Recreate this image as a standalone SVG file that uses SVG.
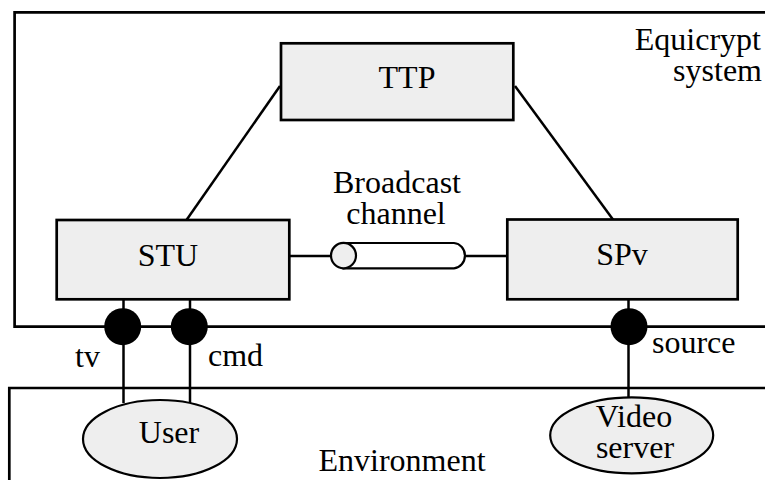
<svg xmlns="http://www.w3.org/2000/svg" width="765" height="480" viewBox="0 0 765 480" font-family="'Liberation Serif', 'Times New Roman', 'DejaVu Serif', serif" font-size="32">
<style>
.box{fill:#eeeeee;stroke:#000;stroke-width:2.7}
.frame{fill:none;stroke:#000;stroke-width:2.7}
.ln{fill:none;stroke:#000;stroke-width:2.5}
.port{fill:#000;stroke:none}
.ell{fill:#eeeeee;stroke:#000;stroke-width:2.2}
.m{text-anchor:middle}
.e{text-anchor:end}
</style>
<rect width="765" height="480" fill="#fff"/>
<g id="equicrypt-system">
<path class="frame" d="M768,12.3 H14.6 V326.7 H768"/>
<text class="e" x="761" y="50">Equicrypt</text>
<text class="e" x="762" y="81">system</text>
</g>
<g id="environment">
<path class="frame" d="M768,388 H9.3 V485"/>
<text class="m" x="402" y="471">Environment</text>
</g>
<g id="connectors">
<line class="ln" x1="280" y1="86" x2="183" y2="225"/>
<line class="ln" x1="515" y1="86" x2="617" y2="225"/>
<line class="ln" x1="289" y1="256" x2="331" y2="256"/>
<line class="ln" x1="466" y1="256" x2="508" y2="256"/>
<line class="ln" x1="123.5" y1="300" x2="123.5" y2="403"/>
<line class="ln" x1="190" y1="300" x2="190" y2="403"/>
<line class="ln" x1="628.5" y1="300" x2="628.5" y2="398"/>
</g>
<g id="TTP">
<rect class="box" x="281" y="43.3" width="232.3" height="76.7"/>
<text class="m" x="407" y="88">TTP</text>
</g>
<g id="STU">
<rect class="box" x="56.7" y="220" width="232.6" height="79.3"/>
<text class="m" x="168" y="266">STU</text>
</g>
<g id="SPv">
<rect class="box" x="507.3" y="219.5" width="230.4" height="79.8"/>
<text class="m" x="622" y="265">SPv</text>
</g>
<g id="broadcast-channel">
<path d="M343.5,243 H454 A12,12.7 0 0 1 454,268.3 H343.5 Z" fill="#fff" stroke="#000" stroke-width="2.2"/>
<ellipse class="ell" cx="343.5" cy="255.6" rx="12.5" ry="12.7"/>
<text class="m" x="397" y="193">Broadcast</text>
<text class="m" x="396" y="224">channel</text>
</g>
<g id="port-tv">
<circle class="port" cx="122.7" cy="326.7" r="18.5"/>
<text x="75" y="367">tv</text>
</g>
<g id="port-cmd">
<circle class="port" cx="189.3" cy="326.7" r="18.5"/>
<text x="208" y="366">cmd</text>
</g>
<g id="port-source">
<circle class="port" cx="629" cy="326.7" r="18.5"/>
<text x="652" y="353">source</text>
</g>
<g id="User">
<ellipse class="ell" cx="160" cy="439" rx="77" ry="39"/>
<text class="m" x="169" y="443">User</text>
</g>
<g id="Video-server">
<ellipse class="ell" cx="631.7" cy="435.3" rx="81.5" ry="38"/>
<text class="m" x="634" y="427">Video</text>
<text class="m" x="635" y="458">server</text>
</g>
</svg>
